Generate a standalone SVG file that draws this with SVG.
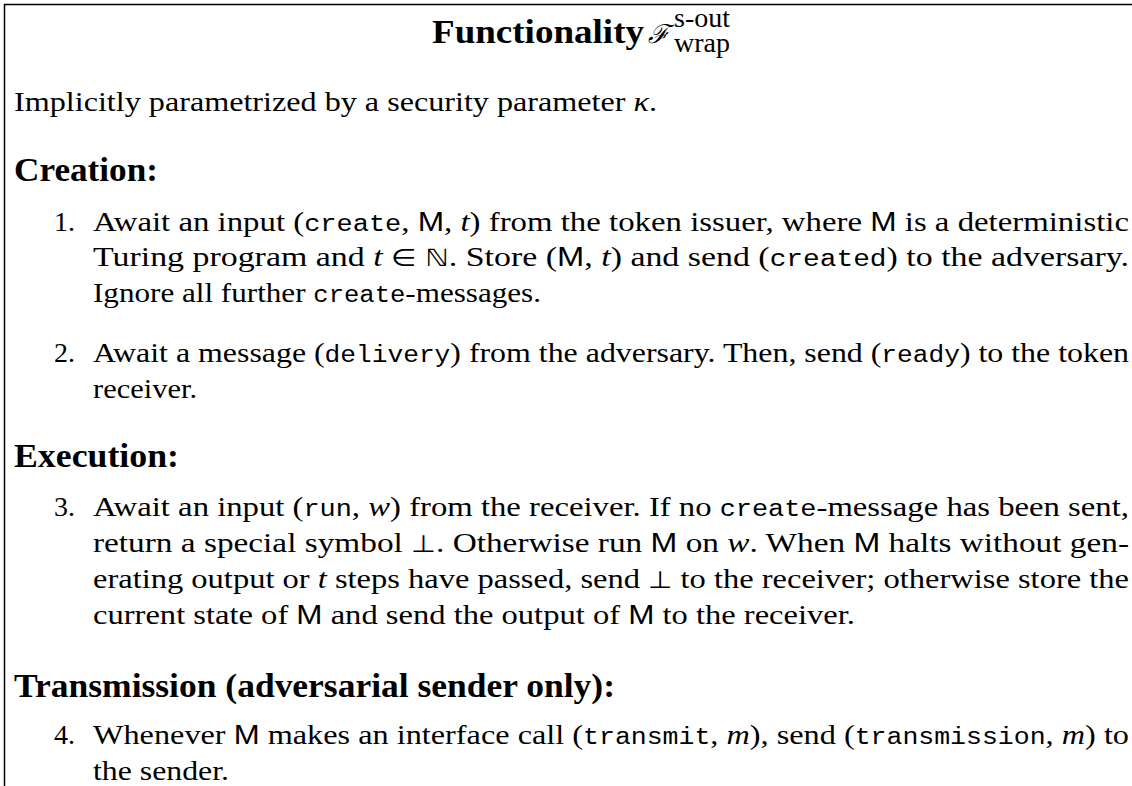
<svg xmlns="http://www.w3.org/2000/svg" width="1132" height="786" viewBox="0 0 1132 786">
<style>
.b{font-family:"Liberation Serif",serif;font-size:28px;fill:#000}
.h{font-family:"Liberation Serif",serif;font-size:34px;font-weight:bold;fill:#000}
.tt{font-family:"Liberation Mono",monospace;font-size:23px}
.sf{font-family:"Liberation Sans",sans-serif;font-size:27px}
.it{font-style:italic}
.m{font-family:"DejaVu Sans",sans-serif;font-size:24px}
.frame{stroke:#000;stroke-width:1.5;fill:none}
</style>
<rect width="1132" height="786" fill="#fff"/>
<path class="frame" d="M4.5 786 V4.5 H1132"/>
<g id="title">
<text class="h" x="432" y="43" font-size="29" textLength="212" lengthAdjust="spacingAndGlyphs">Functionality</text>
<text x="648" y="43" style="font-family:'DejaVu Serif',serif;font-size:26px;font-style:italic">ℱ</text>
<text class="b" x="674" y="27" font-size="17">s-out<tspan x="674" y="52">wrap</tspan></text>
</g>
<g id="intro">
<text class="b" x="14" y="111" textLength="643" lengthAdjust="spacingAndGlyphs">Implicitly parametrized by a security parameter <tspan class="it">κ</tspan>.</text>
</g>
<g id="creation">
<text class="h" x="14" y="181" textLength="144" lengthAdjust="spacingAndGlyphs">Creation:</text>
<text class="b" x="54" y="230.5">1.</text>
<text class="b" x="93" y="230.5" textLength="1036" lengthAdjust="spacingAndGlyphs">Await an input (<tspan class="tt">create</tspan>, <tspan class="sf">M</tspan>, <tspan class="it">t</tspan>) from the token issuer, where <tspan class="sf">M</tspan> is a deterministic</text>
<text class="b" x="93" y="266" textLength="1036" lengthAdjust="spacingAndGlyphs">Turing program and <tspan class="it">t</tspan> <tspan class="m">∈ ℕ</tspan>.  Store (<tspan class="sf">M</tspan>, <tspan class="it">t</tspan>) and send (<tspan class="tt">created</tspan>) to the adversary.</text>
<text class="b" x="93" y="301.5" textLength="448" lengthAdjust="spacingAndGlyphs">Ignore all further <tspan class="tt">create</tspan>-messages.</text>
<text class="b" x="54" y="362">2.</text>
<text class="b" x="93" y="362" textLength="1036" lengthAdjust="spacingAndGlyphs">Await a message (<tspan class="tt">delivery</tspan>) from the adversary.  Then, send (<tspan class="tt">ready</tspan>) to the token</text>
<text class="b" x="93" y="397.5" textLength="104" lengthAdjust="spacingAndGlyphs">receiver.</text>
</g>
<g id="execution">
<text class="h" x="14" y="467" textLength="165" lengthAdjust="spacingAndGlyphs">Execution:</text>
<text class="b" x="54" y="516">3.</text>
<text class="b" x="93" y="516" textLength="1036" lengthAdjust="spacingAndGlyphs">Await an input (<tspan class="tt">run</tspan>, <tspan class="it">w</tspan>) from the receiver.  If no <tspan class="tt">create</tspan>-message has been sent,</text>
<text class="b" x="93" y="552" textLength="1036" lengthAdjust="spacingAndGlyphs">return a special symbol <tspan class="m">⊥</tspan>.  Otherwise run <tspan class="sf">M</tspan> on <tspan class="it">w</tspan>.  When <tspan class="sf">M</tspan> halts without gen-</text>
<text class="b" x="93" y="588" textLength="1036" lengthAdjust="spacingAndGlyphs">erating output or <tspan class="it">t</tspan> steps have passed, send <tspan class="m">⊥</tspan> to the receiver; otherwise store the</text>
<text class="b" x="93" y="624" textLength="762" lengthAdjust="spacingAndGlyphs">current state of <tspan class="sf">M</tspan> and send the output of <tspan class="sf">M</tspan> to the receiver.</text>
</g>
<g id="transmission">
<text class="h" x="14" y="697" textLength="601" lengthAdjust="spacingAndGlyphs">Transmission (adversarial sender only):</text>
<text class="b" x="54" y="744">4.</text>
<text class="b" x="93" y="744" textLength="1036" lengthAdjust="spacingAndGlyphs">Whenever <tspan class="sf">M</tspan> makes an interface call (<tspan class="tt">transmit</tspan>, <tspan class="it">m</tspan>), send (<tspan class="tt">transmission</tspan>, <tspan class="it">m</tspan>) to</text>
<text class="b" x="93" y="779.5" textLength="136" lengthAdjust="spacingAndGlyphs">the sender.</text>
</g>
</svg>
